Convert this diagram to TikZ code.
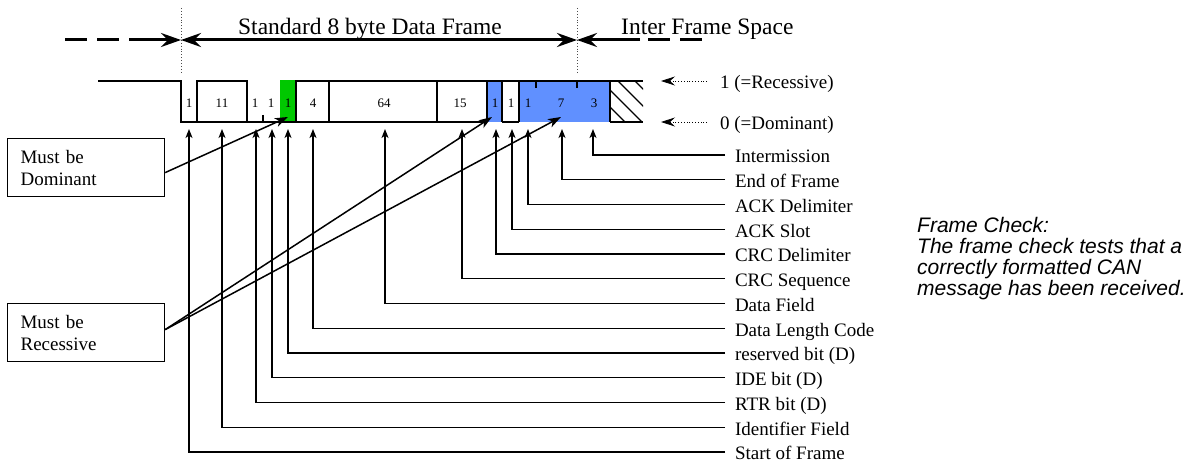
\documentclass[tikz,border=0pt]{standalone}
\usepackage{fontspec}
\setmainfont{Liberation Serif}
\newfontfamily\fcfont{Liberation Sans}
\usetikzlibrary{arrows.meta}
\definecolor{bitgreen}{RGB}{0,200,0}
\definecolor{bitblue}{RGB}{96,144,255}
\begin{document}
\begin{tikzpicture}[x=1pt,y=-1pt,
  sig/.style={line width=1.4pt},
  lbl/.style={anchor=west, inner sep=0pt, outer xsep=10pt, text height=16pt, text depth=0pt, font=\fontsize{19}{22}\selectfont},
  lvl/.style={anchor=west, inner sep=0pt, outer xsep=13pt, text height=16pt, text depth=0pt, font=\fontsize{19}{22}\selectfont},
  bitnum/.style={anchor=base, inner sep=0pt, font=\fontsize{13}{15}\selectfont},
  title/.style={inner sep=0pt, font=\fontsize{23.5}{26}\selectfont},
  uparr/.style={line width=1.2pt, -{Stealth[length=9pt,width=7pt,inset=2.5pt]}},
  diag/.style={line width=1.5pt, -{Stealth[length=13pt,width=9pt,inset=3.5pt]}},
  big/.style={line width=3pt, -{Stealth[length=20pt,width=14pt,inset=7pt]}},
  bigdash/.style={line width=3pt, dash pattern=on 22pt off 10pt},
  dotarr/.style={dotted, line width=0.8pt, -{Stealth[length=14pt,width=9pt,inset=5pt]}},
  vdot/.style={dotted, line width=0.9pt, black!70},
  note/.style={draw, line width=1.2pt, anchor=north west, minimum width=157pt, minimum height=58pt, inner xsep=13pt, text width=131pt, align=left, font=\fontsize{19}{22}\selectfont}
]
\useasboundingbox (0,0) rectangle (1187,462);

% --- top frame markers ---
\coordinate (m1top) at (181,8); \coordinate (m1bot) at (181,73);
\coordinate (m2top) at (577,8); \coordinate (m2bot) at (577,73);
\draw[vdot] (m1top) -- (m1bot);
\draw[vdot] (m2top) -- (m2bot);
\coordinate (m1) at (181,40);
\coordinate (m2) at (577,40);
\coordinate (ldash) at (65,40);
\coordinate (lsolid) at (129,40);
\coordinate (rsolid) at (640,40);
\coordinate (rdash) at (702,40);
\draw[bigdash] (ldash) -- (lsolid);
\draw[big] (lsolid) -- (m1);
\draw[big, {Stealth[length=20pt,width=14pt,inset=7pt]}-{Stealth[length=20pt,width=14pt,inset=7pt]}] (m1) -- (m2);
\draw[big] (rsolid) -- (m2);
\draw[bigdash] ([xshift=8pt]rsolid) -- (rdash);
\node[title, anchor=base] (std) at (370,35) {Standard 8 byte Data Frame};
\node[title, anchor=base west] (ifs) at (621,35) {Inter Frame Space};

% --- frame signal ---
\fill[bitblue] (487,81) rectangle (502,122);
\fill[bitblue] (519,81) rectangle (610,122);
\begin{scope}
  \clip (610,81) rectangle (643,122);
  \foreach \c in {567,584,601,618,635}
    \draw[line width=1.2pt] (\c,81) -- (\c+41,122);
\end{scope}
\draw[sig] (98,81) -- (181,81) -- (181,122) -- (487,122);
\draw[sig] (502,122) -- (519,122);
\draw[sig] (610,122) -- (643,122);
\draw[sig] (197,122) -- (197,81) -- (247,81) -- (247,122);
\draw[sig] (280,81) -- (643,81);
\foreach \x in {296,329,437,487,502,519,610}
  \draw[sig] (\x,81) -- (\x,122);
\draw[sig] (263,115) -- (263,122);
\draw[sig] (536,81) -- (536,88);
\draw[sig] (577,81) -- (577,88);
\fill[bitgreen] (280,80.3) rectangle (295.3,121.3);

\foreach \x/\t in {189/1,222/11,255/1,271/1,288/1,313/4,384/64,460/15,495/1,511/1,528/1,561/7,594/3}
  \node[bitnum] at (\x,108) {\t};

% --- level legend ---
\node[lvl] (rec) at (707,81) {1 (=Recessive)};
\node[lvl] (dom) at (707,122) {0 (=Dominant)};
\coordinate (hi) at (661,81);
\coordinate (lo) at (661,122);
\draw[dotarr] (rec.west) -- (hi);
\draw[dotarr] (dom.west) -- (lo);

% --- field labels ---
\foreach \name/\txt/\x [count=\i from 0] in {
  lIM/Intermission/593,
  lEOF/End of Frame/562,
  lAD/ACK Delimiter/528,
  lAS/ACK Slot/512,
  lCD/CRC Delimiter/496,
  lCS/CRC Sequence/462,
  lDF/Data Field/385,
  lDLC/Data Length Code/313,
  lRB/reserved bit (D)/288,
  lIDE/IDE bit (D)/272,
  lRTR/RTR bit (D)/256,
  lID/Identifier Field/222,
  lSOF/Start of Frame/189}{
  \node[lbl] (\name) at (725,155+24.75*\i) {\txt};
  \coordinate (t\name) at (\x,129);
  \draw[uparr] (\name.west) -| (t\name);
}

% --- must be boxes ---
\node[note] (mbd) at (7,138) {Must be\\Dominant};
\node[note] (mbr) at (7,303) {Must be\\Recessive};
\coordinate (tdom) at (288,117);
\coordinate (trec1) at (492,117);
\coordinate (trec2) at (561,117);
\draw[diag] ([yshift=-5pt]mbd.east) -- (tdom);
\draw[diag] ([yshift=3pt]mbr.east) -- (trec1);
\draw[diag] ([yshift=3pt]mbr.east) -- (trec2);

% --- frame check note ---
\node[anchor=north west, inner sep=0pt, align=left, font=\fcfont\itshape\fontsize{21}{21}\selectfont] (fc) at (917,217)
  {Frame Check:\\The frame check tests that a\\correctly formatted CAN\\message has been received.};
\end{tikzpicture}
\end{document}
